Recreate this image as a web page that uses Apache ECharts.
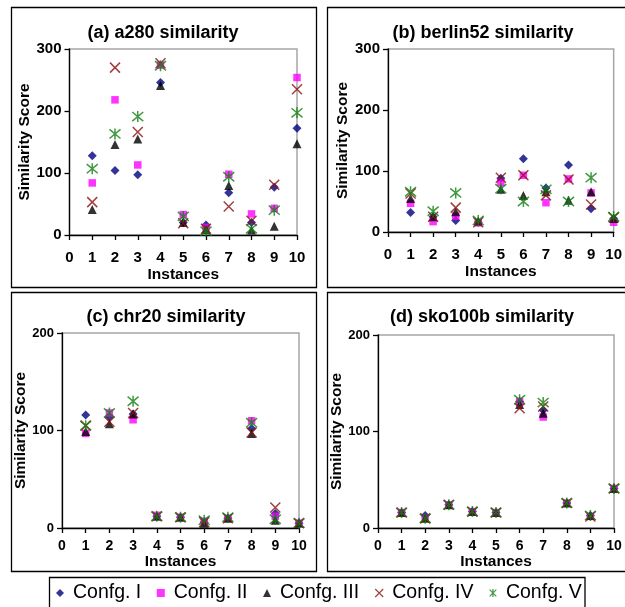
<!DOCTYPE html>
<html>
<head>
<meta charset="utf-8">
<title>Similarity scores</title>
<script src="https://cdn.jsdelivr.net/npm/echarts@6/dist/echarts.min.js"></script>
<style>
  html, body { margin: 0; padding: 0; background: #fff; }
  #chart { width: 625px; height: 607px; }
</style>
</head>
<body>
<div id="chart"></div>
<script>
'use strict';

/* ── Data: rows are Confg. I..V, columns are instances 1..10 ── */
const instances = [1, 2, 3, 4, 5, 6, 7, 8, 9, 10];
const configNames = ['Confg. I', 'Confg. II', 'Confg. III', 'Confg. IV', 'Confg. V'];
const xTicks = [0, 10, 1];       // min, max, interval
const yTicksTop = [0, 300, 100];
const yTicksBottom = [0, 200, 100];

const a280Scores = [
  [128, 104, 97, 246, 20, 16, 68, 20, 77, 172],
  [84, 218, 113, 274, 33, 12, 98, 34, 43, 254],
  [41, 146, 155, 241, 20, 9, 80, 8, 14, 147],
  [53, 270, 166, 277, 19, 10, 46, 23, 81, 235],
  [107, 163, 191, 273, 30, 6, 94, 10, 40, 197]
];
const berlin52Scores = [
  [32, 25, 19, 16, 88, 120, 72, 110, 38, 22],
  [47, 17, 26, 15, 81, 93, 48, 87, 64, 16],
  [55, 25, 33, 18, 70, 60, 66, 52, 66, 22],
  [63, 25, 40, 16, 89, 93, 60, 86, 45, 24],
  [66, 34, 64, 19, 71, 50, 70, 50, 89, 25]
];
const chr20Scores = [
  [116, 114, 117, 12, 11, 6, 10, 102, 15, 5],
  [97, 118, 111, 13, 11, 7, 10, 110, 12, 5],
  [99, 107, 117, 12, 11, 5, 10, 97, 8, 5],
  [105, 109, 118, 12, 11, 6, 10, 98, 21, 5],
  [105, 118, 130, 12, 11, 8, 11, 108, 9, 5]
];
const sko100bScores = [
  [16, 13, 24, 17, 16, 131, 122, 26, 13, 41],
  [16, 10, 24, 17, 16, 131, 115, 26, 12, 41],
  [16, 10, 24, 17, 16, 128, 119, 26, 13, 41],
  [16, 10, 24, 17, 16, 124, 126, 26, 12, 41],
  [16, 10, 24, 17, 16, 133, 130, 26, 13, 41]
];

/* ── Styles ── */
const FONT = "Arial, 'Liberation Sans', sans-serif";
const X_PATH = 'path://M0,0L10,10M10,0L0,10';
const STAR_PATH = 'path://M0,0L10,10M10,0L0,10M5,-1L5,11';

const markers = [
  { symbol: 'diamond',  size: 9,  color: '#000080', stroke: false },
  { symbol: 'rect',     size: 7.5, color: '#ff00ff', stroke: false },
  { symbol: 'triangle', size: 9,  color: '#000000', stroke: false },
  { symbol: X_PATH,     size: 10, color: '#8b1010', stroke: true },
  { symbol: STAR_PATH,  size: 11, color: '#108010', stroke: true }
];

const panels = [
  { title: '(a) a280 similarity',    scores: a280Scores,     yTicks: yTicksTop,
    grid: { left: 69.5, top: 49, width: 227.5, height: 186 }, titleAt: [163, 33],
    tickFont: 15, yTickFont: 15, xLabelMargin: 15, xNameGap: 32, yNameGap: 37 },
  { title: '(b) berlin52 similarity', scores: berlin52Scores, yTicks: yTicksTop,
    grid: { left: 388, top: 49, width: 226, height: 183 }, titleAt: [483, 33],
    tickFont: 15, yTickFont: 15, xLabelMargin: 15, xNameGap: 32, yNameGap: 37 },
  { title: '(c) chr20 similarity',   scores: chr20Scores,    yTicks: yTicksBottom,
    grid: { left: 62, top: 333, width: 237, height: 195 }, titleAt: [166, 317],
    tickFont: 14, yTickFont: 13, xLabelMargin: 11, xNameGap: 21, yNameGap: 28 },
  { title: '(d) sko100b similarity', scores: sko100bScores,  yTicks: yTicksBottom,
    grid: { left: 378, top: 335, width: 236, height: 193 }, titleAt: [482, 317],
    tickFont: 14, yTickFont: 13, xLabelMargin: 11, xNameGap: 21, yNameGap: 28 }
];

const AXIS_LINE = { show: true, onZero: false, lineStyle: { color: '#000', width: 1.3 } };
const AXIS_TICK = { show: true, length: 5, lineStyle: { color: '#000', width: 1.3 } };

/* ── Build option ── */
const grids = [], xAxes = [], yAxes = [], series = [], graphics = [];

panels.forEach((p, pi) => {
  grids.push({ ...p.grid, show: true, borderColor: '#a6a6a6', borderWidth: 1.5 });

  xAxes.push({
    gridIndex: pi, type: 'value',
    min: xTicks[0], max: xTicks[1], interval: xTicks[2],
    axisLine: AXIS_LINE, axisTick: AXIS_TICK, splitLine: { show: false },
    axisLabel: { margin: p.xLabelMargin, color: '#000', fontSize: p.tickFont, fontWeight: 'bold', fontFamily: FONT },
    name: 'Instances', nameLocation: 'middle', nameGap: p.xNameGap,
    nameTextStyle: { color: '#000', fontSize: 15.5, fontWeight: 'bold', fontFamily: FONT }
  });

  yAxes.push({
    gridIndex: pi, type: 'value',
    min: p.yTicks[0], max: p.yTicks[1], interval: p.yTicks[2],
    axisLine: AXIS_LINE, axisTick: AXIS_TICK, splitLine: { show: false },
    axisLabel: { margin: 8, color: '#000', fontSize: p.yTickFont, fontWeight: 'bold', fontFamily: FONT },
    name: 'Similarity Score', nameLocation: 'middle', nameGap: p.yNameGap,
    nameTextStyle: { color: '#000', fontSize: 15.5, fontWeight: 'bold', fontFamily: FONT }
  });

  p.scores.forEach((row, ci) => {
    const m = markers[ci];
    series.push({
      name: configNames[ci],
      type: 'scatter',
      xAxisIndex: pi, yAxisIndex: pi,
      data: instances.map((x, i) => [x, row[i]]),
      symbol: m.symbol,
      symbolSize: m.size,
      itemStyle: m.stroke
        ? { color: m.color, borderColor: m.color, borderWidth: 1.5 }
        : { color: m.color },
      emphasis: { disabled: true },
      z: 2 + ci
    });
  });

  graphics.push({
    type: 'text', x: p.titleAt[0], y: p.titleAt[1],
    style: { text: p.title, font: 'bold 18px ' + FONT, fill: '#000', align: 'center', verticalAlign: 'middle' }
  });
});

/* panel frames + legend box */
[[11.5, 7.5, 305, 280], [327.5, 7.5, 310, 280], [11.5, 292.5, 305, 279], [327.5, 292.5, 310, 279]]
  .forEach(r => graphics.push({
    type: 'rect', shape: { x: r[0], y: r[1], width: r[2], height: r[3] },
    style: { fill: 'none', stroke: '#000', lineWidth: 1.3 }
  }));
graphics.push({
  type: 'rect', shape: { x: 49.5, y: 577.5, width: 535.5, height: 40 },
  style: { fill: '#fff', stroke: '#000', lineWidth: 1.3 }
});

const legendData = configNames.map((n, ci) => ({
  name: n,
  icon: markers[ci].symbol,
  itemStyle: markers[ci].stroke
    ? { color: markers[ci].color, borderColor: markers[ci].color, borderWidth: 1.2 }
    : { color: markers[ci].color, borderWidth: 0 }
}));

const chart = echarts.init(document.getElementById('chart'), null, { renderer: 'canvas' });
chart.setOption({
  animation: false,
  backgroundColor: '#fff',
  textStyle: { fontFamily: FONT },
  graphic: graphics,
  grid: grids,
  xAxis: xAxes,
  yAxis: yAxes,
  legend: {
    data: legendData,
    left: 56, top: 583,
    padding: 0,
    itemWidth: 8, itemHeight: 8, itemGap: 15.5,
    selectedMode: false,
    textStyle: { color: '#000', fontSize: 19.5, fontFamily: FONT, padding: [0, 0, 0, 4] }
  },
  series: series
});
window.addEventListener('resize', () => chart.resize());
</script>
</body>
</html>
